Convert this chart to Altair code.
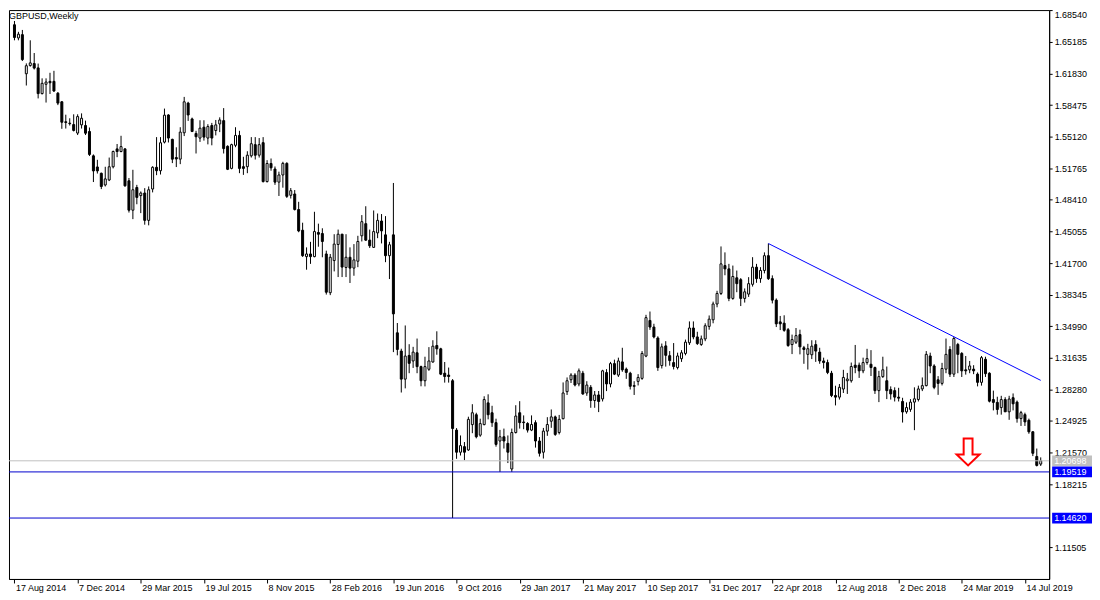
import altair as alt
import pandas as pd
import numpy as np

# ---------------- data ----------------
title_text = "GBPUSD,Weekly"
x_tick_labels = ["17 Aug 2014", "7 Dec 2014", "29 Mar 2015", "19 Jul 2015", "8 Nov 2015",
                 "28 Feb 2016", "19 Jun 2016", "9 Oct 2016", "29 Jan 2017", "21 May 2017",
                 "10 Sep 2017", "31 Dec 2017", "22 Apr 2018", "12 Aug 2018", "2 Dec 2018",
                 "24 Mar 2019", "14 Jul 2019"]
x_tick_step = 16
price_ticks = [1.68540, 1.65185, 1.61830, 1.58475, 1.55120, 1.51765, 1.48410, 1.45055,
               1.41700, 1.38345, 1.34990, 1.31635, 1.28280, 1.24925, 1.21570, 1.18215, 1.11505]

opens = [
    1.6700, 1.6560, 1.6595, 1.6180, 1.6267, 1.6288, 1.6242, 1.5969, 1.6068, 1.6099,
    1.6099, 1.5973, 1.5882, 1.5670, 1.5655, 1.5640, 1.5550, 1.5637, 1.5630, 1.5567,
    1.5308, 1.5190, 1.5123, 1.4999, 1.5052, 1.5192, 1.5382, 1.5354, 1.5382, 1.5043,
    1.4731, 1.4972, 1.4886, 1.4913, 1.4623, 1.4956, 1.5186, 1.5150, 1.5454, 1.5742,
    1.5483, 1.5290, 1.5273, 1.5553, 1.5868, 1.5700, 1.5546, 1.5497, 1.5612, 1.5497,
    1.5630, 1.5577, 1.5647, 1.5682, 1.5409, 1.5175, 1.5420, 1.5525, 1.5193, 1.5193,
    1.5308, 1.5427, 1.5315, 1.5448, 1.5035, 1.5227, 1.5168, 1.5029, 1.5105, 1.5228,
    1.4889, 1.4903, 1.4738, 1.4518, 1.4238, 1.4266, 1.4238, 1.4494, 1.4483, 1.4266,
    1.3855, 1.4196, 1.4367, 1.4476, 1.4123, 1.4231, 1.4116, 1.4189, 1.4459, 1.4588,
    1.4413, 1.4336, 1.4490, 1.4616, 1.4469, 1.4248, 1.4469, 1.3429, 1.3235, 1.2937,
    1.3189, 1.3130, 1.3217, 1.3070, 1.2920, 1.3042, 1.3119, 1.3294, 1.3259, 1.3000,
    1.2980, 1.2920, 1.2396, 1.2161, 1.2220, 1.2185, 1.2454, 1.2559, 1.2342, 1.2454,
    1.2685, 1.2580, 1.2475, 1.2280, 1.2325, 1.2255, 1.1983, 1.2370, 1.2580, 1.2482,
    1.2466, 1.2396, 1.2475, 1.2280, 1.2161, 1.2385, 1.2490, 1.2536, 1.2370, 1.2517,
    1.2804, 1.2931, 1.2980, 1.2886, 1.3000, 1.2790, 1.2850, 1.2710, 1.2769, 1.2727,
    1.3007, 1.2886, 1.3102, 1.2980, 1.3120, 1.3043, 1.3000, 1.2868, 1.2913, 1.2945,
    1.3182, 1.3560, 1.3490, 1.3374, 1.3081, 1.3290, 1.3186, 1.3113, 1.3060, 1.3154,
    1.3210, 1.3323, 1.3480, 1.3385, 1.3305, 1.3364, 1.3497, 1.3567, 1.3735, 1.3847,
    1.4143, 1.4108, 1.3794, 1.4013, 1.3993, 1.3794, 1.3840, 1.3944, 1.4126, 1.4004,
    1.4091, 1.4248, 1.4004, 1.3776, 1.3545, 1.3531, 1.3462, 1.3304, 1.3329, 1.3410,
    1.3270, 1.3200, 1.3196, 1.3304, 1.3224, 1.3130, 1.3113, 1.3000, 1.2763, 1.2746,
    1.2832, 1.2920, 1.2920, 1.3085, 1.3085, 1.3025, 1.3113, 1.3095, 1.3060, 1.2815,
    1.2964, 1.2920, 1.2826, 1.2815, 1.2746, 1.2700, 1.2590, 1.2616, 1.2693, 1.2721,
    1.2833, 1.2868, 1.3183, 1.3077, 1.2930, 1.2892, 1.3043, 1.3252, 1.2990, 1.3305,
    1.3210, 1.3036, 1.3036, 1.3043, 1.2990, 1.2903, 1.3148, 1.3000, 1.2720, 1.2690,
    1.2635, 1.2720, 1.2590, 1.2740, 1.2693, 1.2518, 1.2560, 1.2500, 1.2378, 1.2116,
    1.2035,
]
highs = [
    1.6740, 1.6625, 1.6645, 1.6290, 1.6535, 1.6400, 1.6288, 1.6131, 1.6131, 1.6190,
    1.6211, 1.5986, 1.5890, 1.5745, 1.5707, 1.5749, 1.5749, 1.5759, 1.5682, 1.5609,
    1.5323, 1.5266, 1.5130, 1.5192, 1.5290, 1.5364, 1.5434, 1.5521, 1.5390, 1.5073,
    1.5160, 1.5000, 1.4930, 1.4965, 1.4983, 1.5198, 1.5507, 1.5507, 1.5810, 1.5750,
    1.5490, 1.5399, 1.5612, 1.5934, 1.5882, 1.5714, 1.5574, 1.5686, 1.5686, 1.5644,
    1.5658, 1.5689, 1.5717, 1.5815, 1.5420, 1.5437, 1.5612, 1.5574, 1.5298, 1.5357,
    1.5507, 1.5507, 1.5497, 1.5507, 1.5262, 1.5280, 1.5195, 1.5140, 1.5245, 1.5240,
    1.4966, 1.4945, 1.4820, 1.4598, 1.4336, 1.4395, 1.4714, 1.4588, 1.4539, 1.4301,
    1.4266, 1.4476, 1.4525, 1.4480, 1.4476, 1.4336, 1.4371, 1.4459, 1.4679, 1.4773,
    1.4525, 1.4728, 1.4696, 1.4690, 1.4668, 1.4395, 1.5020, 1.3533, 1.3260, 1.3507,
    1.3308, 1.3280, 1.3368, 1.3080, 1.3175, 1.3277, 1.3350, 1.3445, 1.3270, 1.3119,
    1.3060, 1.2938, 1.2417, 1.2339, 1.2269, 1.2538, 1.2671, 1.2580, 1.2517, 1.2755,
    1.2776, 1.2654, 1.2517, 1.2398, 1.2412, 1.2339, 1.2412, 1.2660, 1.2703, 1.2552,
    1.2480, 1.2552, 1.2500, 1.2322, 1.2419, 1.2533, 1.2615, 1.2550, 1.2557, 1.2902,
    1.2955, 1.3000, 1.3000, 1.3050, 1.3025, 1.2915, 1.2874, 1.2811, 1.2811, 1.3036,
    1.3043, 1.3120, 1.3144, 1.3165, 1.3270, 1.3060, 1.3015, 1.2915, 1.2990, 1.3235,
    1.3620, 1.3655, 1.3525, 1.3392, 1.3315, 1.3340, 1.3235, 1.3320, 1.3218, 1.3245,
    1.3357, 1.3550, 1.3550, 1.3440, 1.3400, 1.3530, 1.3613, 1.3760, 1.3875, 1.4346,
    1.4283, 1.4161, 1.4143, 1.4090, 1.4010, 1.3900, 1.4020, 1.4232, 1.4161, 1.4126,
    1.4283, 1.4377, 1.4039, 1.3794, 1.3608, 1.3615, 1.3480, 1.3410, 1.3480, 1.3462,
    1.3290, 1.3312, 1.3350, 1.3350, 1.3270, 1.3165, 1.3144, 1.3025, 1.2867, 1.2885,
    1.3036, 1.3003, 1.3113, 1.3300, 1.3113, 1.3165, 1.3259, 1.3245, 1.3070, 1.3025,
    1.3175, 1.3071, 1.2860, 1.2850, 1.2845, 1.2739, 1.2690, 1.2725, 1.2850, 1.2868,
    1.2955, 1.3235, 1.3218, 1.3095, 1.2969, 1.3110, 1.3368, 1.3287, 1.3385, 1.3322,
    1.3224, 1.3183, 1.3130, 1.3085, 1.3008, 1.3183, 1.3175, 1.3010, 1.2815, 1.2750,
    1.2760, 1.2745, 1.2760, 1.2785, 1.2710, 1.2600, 1.2581, 1.2518, 1.2385, 1.2200,
    1.2106,
]
lows = [
    1.6535, 1.6535, 1.6315, 1.6055, 1.6255, 1.6225, 1.5918, 1.5960, 1.5874, 1.5965,
    1.5986, 1.5847, 1.5595, 1.5598, 1.5630, 1.5567, 1.5529, 1.5598, 1.5529, 1.5306,
    1.5030, 1.5120, 1.4955, 1.4983, 1.5040, 1.5175, 1.5294, 1.5346, 1.4980, 1.4706,
    1.4636, 1.4794, 1.4700, 1.4577, 1.4570, 1.4920, 1.5103, 1.5110, 1.5440, 1.5450,
    1.5231, 1.5189, 1.5220, 1.5518, 1.5679, 1.5560, 1.5333, 1.5456, 1.5470, 1.5430,
    1.5420, 1.5525, 1.5560, 1.5333, 1.5157, 1.5165, 1.5400, 1.5124, 1.5106, 1.5124,
    1.5290, 1.5269, 1.5290, 1.5025, 1.5025, 1.5150, 1.5000, 1.4882, 1.4970, 1.4861,
    1.4855, 1.4728, 1.4497, 1.4235, 1.4099, 1.4161, 1.4231, 1.4343, 1.4231, 1.3835,
    1.3829, 1.4081, 1.4021, 1.4021, 1.4021, 1.3958, 1.4035, 1.4126, 1.4399, 1.4406,
    1.4330, 1.4330, 1.4434, 1.4378, 1.4179, 1.4000, 1.3224, 1.3190, 1.2795, 1.2839,
    1.3000, 1.3056, 1.3000, 1.2861, 1.2860, 1.3025, 1.3112, 1.3196, 1.2980, 1.2900,
    1.2900, 1.1462, 1.2091, 1.2126, 1.2077, 1.2175, 1.2363, 1.2308, 1.2325, 1.2447,
    1.2510, 1.2430, 1.2220, 1.1952, 1.2200, 1.2046, 1.1952, 1.2360, 1.2412, 1.2405,
    1.2370, 1.2385, 1.2210, 1.2115, 1.2094, 1.2335, 1.2420, 1.2335, 1.2350, 1.2510,
    1.2769, 1.2896, 1.2860, 1.2861, 1.2770, 1.2760, 1.2633, 1.2633, 1.2587, 1.2700,
    1.2810, 1.2850, 1.2980, 1.2960, 1.3015, 1.2940, 1.2827, 1.2769, 1.2870, 1.2930,
    1.3170, 1.3460, 1.3370, 1.3025, 1.3050, 1.3070, 1.3080, 1.3040, 1.3040, 1.3120,
    1.3190, 1.3300, 1.3360, 1.3300, 1.3290, 1.3340, 1.3462, 1.3530, 1.3700, 1.3830,
    1.4040, 1.3765, 1.3780, 1.3860, 1.3713, 1.3750, 1.3810, 1.3920, 1.3960, 1.3960,
    1.4060, 1.3990, 1.3741, 1.3490, 1.3458, 1.3440, 1.3280, 1.3203, 1.3310, 1.3200,
    1.3100, 1.3039, 1.3150, 1.3120, 1.3100, 1.3050, 1.2990, 1.2746, 1.2658, 1.2720,
    1.2790, 1.2780, 1.2900, 1.3000, 1.2950, 1.3000, 1.3090, 1.2970, 1.2780, 1.2693,
    1.2950, 1.2725, 1.2720, 1.2700, 1.2700, 1.2476, 1.2570, 1.2590, 1.2395, 1.2700,
    1.2810, 1.2860, 1.3000, 1.2830, 1.2770, 1.2870, 1.3000, 1.2960, 1.2960, 1.3000,
    1.2960, 1.2985, 1.3000, 1.2990, 1.2860, 1.2868, 1.2960, 1.2690, 1.2605, 1.2560,
    1.2560, 1.2590, 1.2505, 1.2605, 1.2475, 1.2440, 1.2440, 1.2357, 1.2120, 1.2010,
    1.2015,
]
closes = [
    1.6565, 1.6600, 1.6330, 1.6265, 1.6295, 1.6240, 1.5969, 1.6078, 1.6092, 1.6084,
    1.5997, 1.5868, 1.5665, 1.5662, 1.5650, 1.5578, 1.5725, 1.5707, 1.5549, 1.5323,
    1.5148, 1.5148, 1.4983, 1.5063, 1.5192, 1.5354, 1.5354, 1.5406, 1.4990, 1.4731,
    1.4948, 1.4867, 1.4913, 1.4623, 1.4948, 1.5186, 1.5150, 1.5447, 1.5740, 1.5497,
    1.5273, 1.5275, 1.5560, 1.5882, 1.5742, 1.5567, 1.5511, 1.5602, 1.5507, 1.5619,
    1.5497, 1.5637, 1.5689, 1.5385, 1.5165, 1.5427, 1.5525, 1.5175, 1.5175, 1.5315,
    1.5437, 1.5315, 1.5427, 1.5035, 1.5227, 1.5181, 1.5029, 1.5105, 1.5228, 1.4878,
    1.4938, 1.4738, 1.4511, 1.4248, 1.4266, 1.4238, 1.4504, 1.4476, 1.4399, 1.3860,
    1.4231, 1.4371, 1.4476, 1.4127, 1.4231, 1.4116, 1.4203, 1.4399, 1.4609, 1.4413,
    1.4353, 1.4504, 1.4623, 1.4511, 1.4248, 1.4364, 1.3630, 1.3252, 1.2937, 1.3182,
    1.3105, 1.3224, 1.3070, 1.2920, 1.3070, 1.3130, 1.3287, 1.3259, 1.2990, 1.2965,
    1.2965, 1.2413, 1.2161, 1.2231, 1.2161, 1.2510, 1.2580, 1.2325, 1.2465, 1.2720,
    1.2559, 1.2475, 1.2244, 1.2325, 1.2280, 1.2161, 1.2370, 1.2545, 1.2475, 1.2475,
    1.2396, 1.2455, 1.2280, 1.2150, 1.2385, 1.2455, 1.2536, 1.2350, 1.2510, 1.2790,
    1.2920, 1.2980, 1.2875, 1.3025, 1.2780, 1.2874, 1.2710, 1.2769, 1.2700, 1.3025,
    1.2886, 1.3102, 1.2990, 1.3130, 1.3036, 1.3008, 1.2861, 1.2861, 1.2955, 1.3210,
    1.3590, 1.3490, 1.3385, 1.3060, 1.3280, 1.3190, 1.3134, 1.3071, 1.3183, 1.3217,
    1.3330, 1.3480, 1.3385, 1.3315, 1.3364, 1.3504, 1.3574, 1.3735, 1.3847, 1.4161,
    1.4108, 1.3794, 1.4027, 1.3951, 1.3794, 1.3864, 1.3951, 1.4126, 1.4004, 1.4091,
    1.4248, 1.4004, 1.3776, 1.3524, 1.3524, 1.3455, 1.3294, 1.3357, 1.3399, 1.3280,
    1.3252, 1.3260, 1.3287, 1.3235, 1.3130, 1.3113, 1.3008, 1.2763, 1.2746, 1.2850,
    1.2955, 1.2938, 1.3071, 1.3060, 1.3025, 1.3113, 1.3155, 1.3060, 1.2815, 1.2964,
    1.3036, 1.2815, 1.2780, 1.2746, 1.2735, 1.2588, 1.2635, 1.2693, 1.2728, 1.2833,
    1.2868, 1.3200, 1.3077, 1.2850, 1.2892, 1.3050, 1.3200, 1.2990, 1.3368, 1.3200,
    1.3025, 1.3025, 1.3077, 1.3025, 1.2903, 1.3165, 1.2995, 1.2703, 1.2690, 1.2615,
    1.2720, 1.2590, 1.2726, 1.2675, 1.2518, 1.2581, 1.2483, 1.2378, 1.2150, 1.2021,
    1.2070,
]

# horizontal levels (price, line colour, label box colour)
level_prices = [1.20698, 1.19519, 1.14620]
level_line_colors = ["#C0C0C0", "#0000CD", "#0000CD"]
level_box_colors = ["#C0C0C0", "#0000FF", "#0000FF"]

# trend line (bar index, price)
trend_x = [191, 260]
trend_y = [1.43770, 1.29240]

# arrow marker (bar index, price)
arrow_x = [241.6]
arrow_y = [1.2163]

# ---------------- layout ----------------
W = 1044
H = 571
xs = alt.Scale(domain=[-0.125, 260.875], nice=False, zero=False)
ys = alt.Scale(domain=[1.0815, 1.6856], nice=False, zero=False)
FONT = "Liberation Sans"

n = len(opens)
df = pd.DataFrame({"i": np.arange(n), "open": opens, "high": highs, "low": lows, "close": closes})
df["high"] = df[["high", "open", "close"]].max(axis=1)
df["low"] = df[["low", "open", "close"]].min(axis=1)
df["dir"] = np.where(df["close"] >= df["open"], "up", "down")

label_arr = "[" + ",".join("'" + s + "'" for s in x_tick_labels) + "]"
x_axis = alt.Axis(
    values=[k * x_tick_step for k in range(len(x_tick_labels))],
    labelExpr=label_arr + "[round(datum.value/" + str(x_tick_step) + ")]",
    orient="bottom", title=None, grid=False, tickSize=4, labelPadding=1,
    labelAlign="left", labelBaseline="top", labelOffset=1, labelFlush=False,
    labelOverlap=False, labelFont=FONT, labelFontSize=9, labelColor="black",
    tickColor="black", domainColor="black",
)
y_axis = alt.Axis(
    values=price_ticks, format=".5f", orient="right", title=None, grid=False,
    tickSize=3, labelPadding=2, labelFont=FONT, labelFontSize=9, labelColor="black",
    labelBaseline={"condition": {"test": "datum.value > 1.685", "value": "top"}, "value": "middle"},
    labelOverlap=False, labelFlush=False, tickColor="black", domainColor="black",
)


def X(field):
    return alt.X(field, scale=xs, axis=x_axis)


def Y(field):
    return alt.Y(field, scale=ys, axis=y_axis)


wicks = alt.Chart(df).mark_rule(color="black", strokeWidth=1, clip=True).encode(
    x=X("i:Q"), y=Y("low:Q"), y2="high:Q",
)
bodies = alt.Chart(df).mark_bar(width=2, stroke="black", strokeWidth=1, clip=True).encode(
    x=X("i:Q"), y=Y("open:Q"), y2="close:Q",
    fill=alt.Fill("dir:N", scale=alt.Scale(domain=["up", "down"], range=["white", "black"]), legend=None),
)

lv = pd.DataFrame({"price": level_prices, "lc": level_line_colors, "bc": level_box_colors,
                   "label": [f"{p:.5f}" for p in level_prices]})
level_lines = alt.Chart(lv).mark_rule(strokeWidth=1).encode(
    y=Y("price:Q"),
    color=alt.Color("lc:N", scale=None, legend=None),
)
box_shape = "M -1 -0.27 L 1 -0.27 L 1 0.27 L -1 0.27 Z"
level_boxes = alt.Chart(lv).mark_point(shape=box_shape, size=1600, filled=True, opacity=1,
                                       strokeWidth=0, clip=False).encode(
    x=alt.value(W + 23),
    y=Y("price:Q"),
    fill=alt.Fill("bc:N", scale=None, legend=None),
)
level_text = alt.Chart(lv).mark_text(align="left", baseline="middle", color="white",
                                     font=FONT, fontSize=9, clip=False).encode(
    x=alt.value(W + 5),
    y=Y("price:Q"),
    text="label:N",
)

tr = pd.DataFrame({"x": [trend_x[0]], "x2": [trend_x[1]], "y": [trend_y[0]], "y2": [trend_y[1]]})
trend = alt.Chart(tr).mark_rule(color="#0000FF", strokeWidth=1, clip=True).encode(
    x=X("x:Q"), x2="x2:Q", y=Y("y:Q"), y2="y2:Q",
)

arrow_shape = "M -0.33 -1 L 0.33 -1 L 0.33 0.19 L 0.85 0.19 L 0 1 L -0.85 0.19 L -0.33 0.19 Z"
ar = pd.DataFrame({"x": arrow_x, "y": arrow_y})
arrow = alt.Chart(ar).mark_point(shape=arrow_shape, size=729, filled=False, fill="white",
                                 fillOpacity=1, stroke="#FF0000", strokeWidth=2, opacity=1).encode(
    x=X("x:Q"), y=Y("y:Q"),
)

tt = pd.DataFrame({"t": [title_text]})
title = alt.Chart(tt).mark_text(align="left", baseline="alphabetic", font=FONT, fontSize=9,
                                color="black").encode(
    x=alt.value(0), y=alt.value(9), text="t:N",
)

chart = alt.layer(wicks, bodies, level_lines, trend, arrow, level_boxes, level_text, title).properties(
    width=W, height=H,
).configure(
    padding=0, background="white",
).configure_view(
    stroke="black", strokeWidth=1,
)

chart.save("out.html", embed_options={"renderer": "svg", "actions": False})
